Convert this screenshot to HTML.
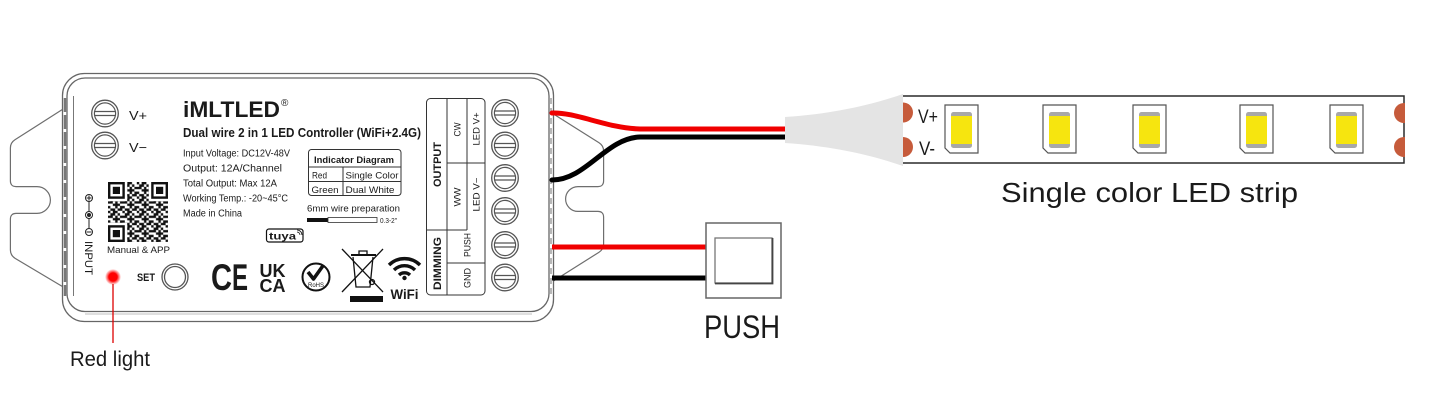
<!DOCTYPE html>
<html><head><meta charset="utf-8"><style>
html,body{margin:0;padding:0;background:#fff;}
svg{display:block}
text{font-family:"Liberation Sans",sans-serif;fill:#1a1a1a;}
</style></head><body>
<svg width="1436" height="404" viewBox="0 0 1436 404" xmlns="http://www.w3.org/2000/svg">
<defs>
<radialGradient id="glow"><stop offset="0" stop-color="#ff0000"/><stop offset="0.5" stop-color="#ff0000"/><stop offset="1" stop-color="#ff0000" stop-opacity="0"/></radialGradient>
<pattern id="qr" x="108" y="182" width="14.4" height="14.4" patternUnits="userSpaceOnUse">
<path fill="#111" d="M0 0h2.4v2.4h-2.4z M4.8 0h4.8v2.4h-4.8z M2.4 2.4h4.8v2.4h-4.8z M9.6 2.4h2.4v2.4h-2.4z M0 4.8h4.8v2.4h-4.8z M7.2 4.8h2.4v2.4h-2.4z M12 4.8h2.4v2.4h-2.4z M4.8 7.2h7.2v2.4h-7.2z M0 9.6h2.4v2.4h-2.4z M7.2 9.6h2.4v2.4h-2.4z M12 9.6h2.4v2.4h-2.4z M2.4 12h4.8v2.4h-4.8z M9.6 12h4.8v2.4h-4.8z"/>
</pattern>
<g id="screw">
<circle r="13.3" fill="#fff" stroke="#555" stroke-width="1.3"/>
<circle r="10.6" fill="none" stroke="#555" stroke-width="1.2"/>
<line x1="-10.6" y1="-2" x2="10.6" y2="-2" stroke="#555" stroke-width="1.2"/>
<line x1="-10.6" y1="2" x2="10.6" y2="2" stroke="#555" stroke-width="1.2"/>
</g>
<g id="led">
<path d="M0 0H33V48H5L0 43Z" fill="#fff" stroke="#555" stroke-width="1.2"/>
<rect x="6" y="7" width="21" height="36" rx="2.5" fill="#a8a8a8"/>
<rect x="6" y="11" width="21" height="28" fill="#f6e50f"/>
</g>
<g id="finder">
<rect x="-2.4" y="-2.4" width="21.6" height="21.6" fill="#fff"/>
<rect width="16.8" height="16.8" fill="#111"/>
<rect x="2.4" y="2.4" width="12" height="12" fill="#fff"/>
<rect x="4.8" y="4.8" width="7.2" height="7.2" fill="#111"/>
</g>
<clipPath id="stripclip"><rect x="880" y="90" width="525" height="80"/></clipPath>
</defs>

<!-- Ears -->
<g fill="#fff">
<path d="M63 111 L16 141 Q12 143.5 12 148 L12 181 Q12 185 16 185 L37 185 A15 15 0 0 1 37 215 L16 215 Q12 215 12 219 L12 250 Q12 254.5 16 257 L63 285" stroke="#6e6e6e" stroke-width="4.4"/>
<path d="M63 111 L16 141 Q12 143.5 12 148 L12 181 Q12 185 16 185 L37 185 A15 15 0 0 1 37 215 L16 215 Q12 215 12 219 L12 250 Q12 254.5 16 257 L63 285" stroke="#fff" stroke-width="2"/>
<path d="M552 115 L598 144 Q602 146.5 602 151 L602 181 Q602 185 598 185 L578 185 A14 14 0 0 0 578 213 L598 213 Q602 213 602 217 L602 244 Q602 248.5 598 251 L552 280" stroke="#6e6e6e" stroke-width="4.4"/>
<path d="M552 115 L598 144 Q602 146.5 602 151 L602 181 Q602 185 598 185 L578 185 A14 14 0 0 0 578 213 L598 213 Q602 213 602 217 L602 244 Q602 248.5 598 251 L552 280" stroke="#fff" stroke-width="2"/>
</g>

<!-- Housing -->
<rect x="62.5" y="73.5" width="491" height="248" rx="22" fill="#fff" stroke="#666" stroke-width="1.3"/>
<rect x="67" y="78" width="482" height="233.5" rx="18" fill="none" stroke="#666" stroke-width="1.3"/>
<line x1="65" y1="98" x2="65" y2="296" stroke="#777" stroke-width="2.5" stroke-dasharray="14 3"/>
<line x1="551" y1="98" x2="551" y2="296" stroke="#888" stroke-width="1.2" stroke-dasharray="6 4"/>
<line x1="73.5" y1="96" x2="73.5" y2="296" stroke="#777" stroke-width="1"/>
<line x1="85" y1="314" x2="532" y2="314" stroke="#aaa" stroke-width="0.8"/>

<!-- Left terminals -->
<use href="#screw" x="105" y="113.5"/>
<use href="#screw" x="105" y="145.5"/>
<text x="129" y="120" font-size="13" textLength="18" lengthAdjust="spacingAndGlyphs">V+</text>
<text x="129" y="152" font-size="13" textLength="18" lengthAdjust="spacingAndGlyphs">V−</text>

<!-- Logo / title / specs -->
<text x="183" y="117" font-size="22" font-weight="bold" textLength="97" lengthAdjust="spacingAndGlyphs">iMLTLED</text>
<text x="281" y="106" font-size="10">®</text>
<text x="183" y="137" font-size="12.5" font-weight="bold" textLength="238" lengthAdjust="spacingAndGlyphs">Dual wire 2 in 1 LED Controller (WiFi+2.4G)</text>
<text x="183" y="156.5" font-size="10" textLength="107" lengthAdjust="spacingAndGlyphs">Input Voltage: DC12V-48V</text>
<text x="183" y="171.5" font-size="10" textLength="99" lengthAdjust="spacingAndGlyphs">Output: 12A/Channel</text>
<text x="183" y="186.5" font-size="10" textLength="94" lengthAdjust="spacingAndGlyphs">Total Output: Max 12A</text>
<text x="183" y="201.5" font-size="10" textLength="105" lengthAdjust="spacingAndGlyphs">Working Temp.: -20~45°C</text>
<text x="183" y="216.5" font-size="10" textLength="59" lengthAdjust="spacingAndGlyphs">Made in China</text>

<!-- Indicator table -->
<rect x="308.5" y="149.5" width="92.5" height="46" rx="3" fill="none" stroke="#333" stroke-width="1"/>
<line x1="308.5" y1="167" x2="401" y2="167" stroke="#333" stroke-width="1"/>
<line x1="308.5" y1="181.5" x2="401" y2="181.5" stroke="#333" stroke-width="1"/>
<line x1="343" y1="167" x2="343" y2="195.5" stroke="#333" stroke-width="1"/>
<text x="314" y="163" font-size="9.5" font-weight="bold" textLength="80" lengthAdjust="spacingAndGlyphs">Indicator Diagram</text>
<text x="312" y="178.5" font-size="9.5" textLength="15" lengthAdjust="spacingAndGlyphs">Red</text>
<text x="345.5" y="178.5" font-size="9.5" textLength="53" lengthAdjust="spacingAndGlyphs">Single Color</text>
<text x="311.5" y="193" font-size="9.5" textLength="27" lengthAdjust="spacingAndGlyphs">Green</text>
<text x="345.5" y="193" font-size="9.5" textLength="49" lengthAdjust="spacingAndGlyphs">Dual White</text>
<text x="307" y="211.5" font-size="9.5" textLength="93" lengthAdjust="spacingAndGlyphs">6mm wire preparation</text>
<rect x="307" y="218" width="21" height="4" fill="#111"/>
<rect x="328" y="217.5" width="49" height="5" fill="#fff" stroke="#333" stroke-width="0.8"/>
<text x="380" y="223" font-size="7" textLength="17" lengthAdjust="spacingAndGlyphs">0.3-2"</text>

<!-- QR -->
<rect x="108" y="182" width="60" height="60" fill="url(#qr)"/>
<use href="#finder" x="108" y="182"/>
<use href="#finder" x="151.2" y="182"/>
<use href="#finder" x="108" y="225.2"/>
<rect x="108" y="182" width="60" height="60" fill="none" stroke="#fff" stroke-width="0"/>
<text x="107" y="253" font-size="9.5" textLength="63" lengthAdjust="spacingAndGlyphs">Manual &amp; APP</text>

<!-- INPUT symbol -->
<line x1="89" y1="201" x2="89" y2="229" stroke="#222" stroke-width="1"/>
<circle cx="89" cy="198" r="3.5" fill="#fff" stroke="#222" stroke-width="1"/>
<line x1="86.5" y1="198" x2="91.5" y2="198" stroke="#222" stroke-width="1"/>
<line x1="89" y1="195.5" x2="89" y2="200.5" stroke="#222" stroke-width="1"/>
<circle cx="89" cy="215" r="3.5" fill="#fff" stroke="#222" stroke-width="1"/>
<circle cx="89" cy="215" r="2" fill="#222"/>
<circle cx="89" cy="232" r="3.5" fill="#fff" stroke="#222" stroke-width="1"/>
<line x1="86.5" y1="232" x2="91.5" y2="232" stroke="#222" stroke-width="1"/>
<text transform="translate(85,241) rotate(90)" font-size="11" textLength="34" lengthAdjust="spacingAndGlyphs">INPUT</text>

<!-- Red light & SET -->
<circle cx="113" cy="277" r="8" fill="url(#glow)"/>
<circle cx="113" cy="277" r="4.5" fill="#ff0000"/>
<line x1="113" y1="284" x2="113" y2="343" stroke="#d00" stroke-width="1.3"/>
<text x="137" y="281" font-size="11" font-weight="bold" textLength="18" lengthAdjust="spacingAndGlyphs">SET</text>
<circle cx="175" cy="277" r="13" fill="#fff" stroke="#555" stroke-width="1.3"/>
<circle cx="175" cy="277" r="10.5" fill="none" stroke="#555" stroke-width="1.3"/>
<text x="70" y="366" font-size="21" fill="#222" textLength="80" lengthAdjust="spacingAndGlyphs">Red light</text>

<!-- tuya -->
<rect x="266.5" y="229" width="36.5" height="13" rx="2.5" fill="none" stroke="#111" stroke-width="1.2"/>
<text x="269" y="239.5" font-size="10" font-weight="bold" textLength="27" lengthAdjust="spacingAndGlyphs">tuya</text>
<path d="M297 232 A3 3 0 0 1 300 235 M297 230 A5 5 0 0 1 302 235" fill="none" stroke="#111" stroke-width="0.8"/>

<!-- Certification marks -->
<text x="211" y="290" font-size="37" font-weight="bold" textLength="21" lengthAdjust="spacingAndGlyphs">C</text>
<text x="232" y="290" font-size="37" font-weight="bold" textLength="16" lengthAdjust="spacingAndGlyphs">E</text>
<text x="259.5" y="277" font-size="18" font-weight="bold" textLength="26" lengthAdjust="spacingAndGlyphs">UK</text>
<text x="259.5" y="292" font-size="18" font-weight="bold" textLength="26" lengthAdjust="spacingAndGlyphs">CA</text>
<circle cx="316" cy="277" r="13.5" fill="none" stroke="#111" stroke-width="2"/>
<path d="M308 272 L313.5 279 L323.5 265" fill="none" stroke="#111" stroke-width="3.6" stroke-linejoin="round"/>
<text x="316" y="287" font-size="6" text-anchor="middle">RoHS</text>
<!-- WEEE bin -->
<g stroke="#111" fill="none" stroke-width="1.3">
<line x1="342" y1="249" x2="383" y2="292"/>
<line x1="383" y1="249" x2="342" y2="292"/>
<line x1="351" y1="255" x2="376" y2="255" stroke-width="2"/>
<path d="M359 254 V251 H367 V254"/>
<path d="M353 257 L356 287 H370 L373 257"/>
<circle cx="372" cy="282" r="2.5"/>
</g>
<rect x="350" y="296" width="33" height="6" fill="#111"/>
<!-- WiFi -->
<g fill="none" stroke="#111" stroke-width="3.4" stroke-linecap="butt">
<path d="M389 265 A22 22 0 0 1 420 265"/>
<path d="M394 270 A15 15 0 0 1 415 270"/>
<path d="M399 275 A8 8 0 0 1 410 275"/>
</g>
<circle cx="404.5" cy="278" r="2.2" fill="#111"/>
<text x="390.5" y="299" font-size="13.5" font-weight="bold" textLength="28" lengthAdjust="spacingAndGlyphs">WiFi</text>

<!-- Terminal label block -->
<g stroke="#333" stroke-width="1" fill="none">
<rect x="426.5" y="98.5" width="58.5" height="196.5" rx="4"/>
<line x1="447" y1="98.5" x2="447" y2="295"/>
<line x1="467" y1="98.5" x2="467" y2="230"/>
<line x1="447" y1="163" x2="485" y2="163"/>
<line x1="426.5" y1="230" x2="467" y2="230"/>
<line x1="447" y1="263" x2="485" y2="263"/>
</g>
<text transform="translate(441,164.5) rotate(-90)" font-size="11" font-weight="bold" text-anchor="middle" textLength="45" lengthAdjust="spacingAndGlyphs">OUTPUT</text>
<text transform="translate(441,263.5) rotate(-90)" font-size="11" font-weight="bold" text-anchor="middle" textLength="53" lengthAdjust="spacingAndGlyphs">DIMMING</text>
<text transform="translate(460.5,129.5) rotate(-90)" font-size="9" text-anchor="middle" textLength="14" lengthAdjust="spacingAndGlyphs">CW</text>
<text transform="translate(479.5,129) rotate(-90)" font-size="9" text-anchor="middle" textLength="33" lengthAdjust="spacingAndGlyphs">LED V+</text>
<text transform="translate(460.5,197) rotate(-90)" font-size="9" text-anchor="middle" textLength="19" lengthAdjust="spacingAndGlyphs">WW</text>
<text transform="translate(479.5,194.5) rotate(-90)" font-size="9" text-anchor="middle" textLength="34" lengthAdjust="spacingAndGlyphs">LED V−</text>
<text transform="translate(470.5,245) rotate(-90)" font-size="9" text-anchor="middle" textLength="24" lengthAdjust="spacingAndGlyphs">PUSH</text>
<text transform="translate(470.5,278) rotate(-90)" font-size="9" text-anchor="middle" textLength="20" lengthAdjust="spacingAndGlyphs">GND</text>

<use href="#screw" x="505" y="113"/>
<use href="#screw" x="505" y="145.5"/>
<use href="#screw" x="505" y="178"/>
<use href="#screw" x="505" y="211"/>
<use href="#screw" x="505" y="245"/>
<use href="#screw" x="505" y="277.5"/>

<!-- Wires -->
<g fill="none" stroke-width="5" stroke-linecap="round">
<path d="M552 113 C576 112 606 128 640 129 L787 129" stroke="#f00000"/>
<path d="M552 180 C586 180 606 138 640 137 L787 137" stroke="#000"/>
<path d="M552 247 L706 247" stroke="#f00000" stroke-linecap="butt"/>
<path d="M552 278 L706 278" stroke="#000" stroke-linecap="butt"/>
</g>

<!-- PUSH button -->
<rect x="706" y="223" width="75" height="75" fill="#fff" stroke="#666" stroke-width="1.5"/>
<rect x="715" y="238" width="57" height="45" fill="#fff" stroke="#777" stroke-width="1.3"/>
<path d="M715 283.5 H772.5 V238" fill="none" stroke="#444" stroke-width="1.8"/>
<text x="704" y="338" font-size="32" fill="#555" textLength="76" lengthAdjust="spacingAndGlyphs">PUSH</text>

<!-- LED strip -->
<rect x="902" y="96" width="502" height="67" fill="#fff" stroke="#2a2a2a" stroke-width="1.5"/>
<g clip-path="url(#stripclip)" fill="#c65b3b">
<circle cx="903" cy="112.5" r="10"/>
<circle cx="903" cy="147" r="10"/>
<circle cx="1404" cy="113" r="10"/>
<circle cx="1404" cy="147" r="10"/>
</g>
<path d="M785 117 C830 114 868 106 903 94 L903 166 C868 154 830 146 785 143 Z" fill="#e4e4e4"/>
<text x="918" y="123" font-size="19" fill="#222" textLength="20" lengthAdjust="spacingAndGlyphs">V+</text>
<text x="919" y="155" font-size="19" fill="#222" textLength="16" lengthAdjust="spacingAndGlyphs">V-</text>
<use href="#led" x="945" y="105"/>
<use href="#led" x="1043" y="105"/>
<use href="#led" x="1133" y="105"/>
<use href="#led" x="1240" y="105"/>
<use href="#led" x="1330" y="105"/>
<text x="1001" y="202" font-size="28" fill="#555" textLength="297" lengthAdjust="spacingAndGlyphs">Single color LED strip</text>
</svg>
</body></html>
